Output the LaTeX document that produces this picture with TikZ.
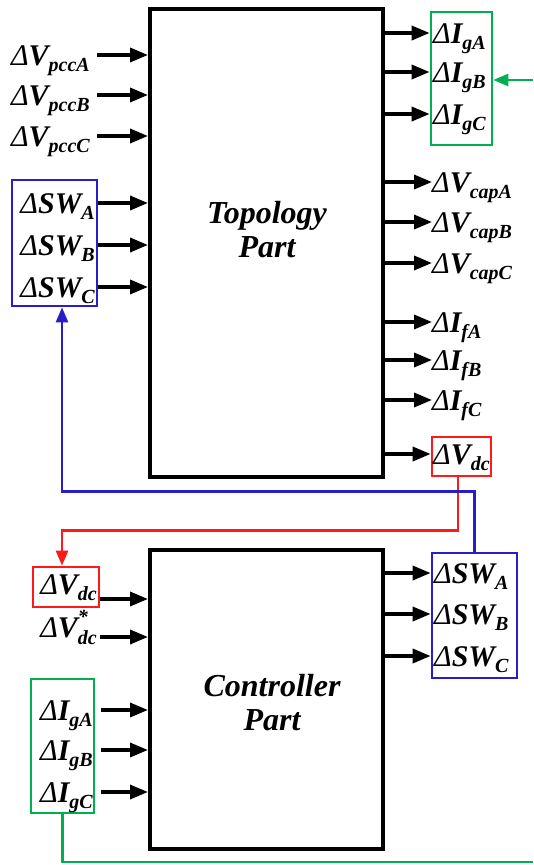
\documentclass[tikz,border=0pt]{standalone}
\usepackage{fontspec}
\setmainfont{Liberation Serif}
\usetikzlibrary{arrows.meta}

\definecolor{grpblue}{RGB}{40,30,200}
\definecolor{grpred}{RGB}{255,25,25}
\definecolor{grpgreen}{RGB}{0,176,80}

% labels: Delta, symbol, subscript
\newcommand{\dlab}[2]{{\mdseries Δ}#1\raisebox{-0.22em}{\fontsize{20}{20}\selectfont #2}}
\newcommand{\dlabs}[2]{{\mdseries Δ}#1\rlap{\raisebox{0.45em}{\fontsize{20}{20}\selectfont *}}\raisebox{-0.25em}{\fontsize{20}{20}\selectfont #2}}

\begin{document}
\begin{tikzpicture}[x=1pt,y=-1pt,
	lbl/.style={inner sep=0pt, text height=20pt, text depth=0pt, font=\fontsize{30}{32}\selectfont\bfseries\itshape},
	ttl/.style={align=center, font=\fontsize{32}{34}\selectfont\bfseries\itshape},
	blk/.style={draw, line width=4pt, minimum width=233pt},
	grp/.style={draw, line width=2.7pt, inner sep=0pt},
	arr/.style={line width=3.5pt, -{Triangle[length=18pt,width=14pt]}},
	link/.style={line width=2.6pt, -{Triangle[length=15pt,width=12pt]}}]
	\useasboundingbox (0,0) rectangle (533,865);
	
	% Topology part
	\node[blk, minimum height=468pt] (topo) at (266.5,243) {};
	\node[ttl] (topottl) at (267,230) {Topology\\Part};
	
	% grid voltages
	\node[lbl, anchor=east] (vpA) at (90,55) {\dlab{V}{pccA}};
	\node[lbl, anchor=east] (vpB) at (90,95) {\dlab{V}{pccB}};
	\node[lbl, anchor=east] (vpC) at (90,136) {\dlab{V}{pccC}};
	\draw[arr] ([xshift=7pt]vpA.east) -- (topo.west |- vpA.east);
	\draw[arr] ([xshift=7pt]vpB.east) -- (topo.west |- vpB.east);
	\draw[arr] ([xshift=7pt]vpC.east) -- (topo.west |- vpC.east);
	
	% switching signals in
	\node[grp, draw=grpblue, minimum width=85pt, minimum height=126pt] (swT) at (54.5,243) {};
	\node[lbl, anchor=east] (swTA) at (95,203) {\dlab{SW}{A}};
	\node[lbl, anchor=east] (swTB) at (95,245) {\dlab{SW}{B}};
	\node[lbl, anchor=east] (swTC) at (95,287) {\dlab{SW}{C}};
	\draw[arr] (swT.east |- swTA) -- (topo.west |- swTA);
	\draw[arr] (swT.east |- swTB) -- (topo.west |- swTB);
	\draw[arr] (swT.east |- swTC) -- (topo.west |- swTC);
	
	% grid currents out
	\node[grp, draw=grpgreen, minimum width=61pt, minimum height=133pt] (igT) at (461.5,78.5) {};
	\node[lbl, anchor=west] (igTA) at (433,33) {\dlab{I}{gA}};
	\node[lbl, anchor=west] (igTB) at (433,72) {\dlab{I}{gB}};
	\node[lbl, anchor=west] (igTC) at (433,114) {\dlab{I}{gC}};
	\draw[arr] (topo.east |- igTA.west) -- (igT.west |- igTA.west);
	\draw[arr] (topo.east |- igTB.west) -- (igT.west |- igTB.west);
	\draw[arr] (topo.east |- igTC.west) -- (igT.west |- igTC.west);
	
	% capacitor voltages
	\node[lbl, anchor=west] (vcA) at (432,182) {\dlab{V}{capA}};
	\node[lbl, anchor=west] (vcB) at (432,222) {\dlab{V}{capB}};
	\node[lbl, anchor=west] (vcC) at (432,263) {\dlab{V}{capC}};
	\draw[arr] (topo.east |- vcA.west) -- (vcA.west);
	\draw[arr] (topo.east |- vcB.west) -- (vcB.west);
	\draw[arr] (topo.east |- vcC.west) -- (vcC.west);
	
	% filter currents
	\node[lbl, anchor=west] (ifA) at (432,322) {\dlab{I}{fA}};
	\node[lbl, anchor=west] (ifB) at (432,360) {\dlab{I}{fB}};
	\node[lbl, anchor=west] (ifC) at (432,400) {\dlab{I}{fC}};
	\draw[arr] (topo.east |- ifA.west) -- (ifA.west);
	\draw[arr] (topo.east |- ifB.west) -- (ifB.west);
	\draw[arr] (topo.east |- ifC.west) -- (ifC.west);
	
	% dc voltage out
	\node[grp, draw=grpred, minimum width=59pt, minimum height=39pt] (vdcT) at (461.5,456.5) {};
	\node[lbl, anchor=west] (vdcTl) at (433,454) {\dlab{V}{dc}};
	\draw[arr] (topo.east |- vdcTl.west) -- (vdcT.west |- vdcTl.west);
	
	% Controller part
	\node[blk, minimum height=299pt] (ctrl) at (266.5,699.5) {};
	\node[ttl] (ctrlttl) at (272,703) {Controller\\Part};
	
	% dc voltage in
	\node[grp, draw=grpred, minimum width=66pt, minimum height=40pt] (vdcC) at (66,587) {};
	\node[lbl, anchor=east] (vdcCl) at (97,584) {\dlab{V}{dc}};
	\node[lbl, anchor=east] (vref) at (97,627) {\dlabs{V}{dc}};
	\draw[arr] ([yshift=-12pt]vdcC.east) -- ([yshift=-12pt]vdcC.east -| ctrl.west);
	\draw[arr] ([yshift=-10pt,xshift=3pt]vref.east) -- ([yshift=-10pt]vref.east -| ctrl.west);
	
	% grid currents in
	\node[grp, draw=grpgreen, minimum width=63pt, minimum height=134pt] (igC) at (62.5,746) {};
	\node[lbl, anchor=east] (igCA) at (93,710) {\dlab{I}{gA}};
	\node[lbl, anchor=east] (igCB) at (93,750) {\dlab{I}{gB}};
	\node[lbl, anchor=east] (igCC) at (93,792) {\dlab{I}{gC}};
	\draw[arr] ([xshift=6pt]igC.east |- igCA) -- (ctrl.west |- igCA);
	\draw[arr] ([xshift=6pt]igC.east |- igCB) -- (ctrl.west |- igCB);
	\draw[arr] ([xshift=6pt]igC.east |- igCC) -- (ctrl.west |- igCC);
	
	% switching signals out
	\node[grp, draw=grpblue, minimum width=85pt, minimum height=125pt] (swC) at (474.5,615.5) {};
	\node[lbl, anchor=west] (swCA) at (434,573) {\dlab{SW}{A}};
	\node[lbl, anchor=west] (swCB) at (434,614) {\dlab{SW}{B}};
	\node[lbl, anchor=west] (swCC) at (434,656) {\dlab{SW}{C}};
	\draw[arr] (ctrl.east |- swCA.west) -- (swC.west |- swCA.west);
	\draw[arr] (ctrl.east |- swCB.west) -- (swC.west |- swCB.west);
	\draw[arr] (ctrl.east |- swCC.west) -- (swC.west |- swCC.west);
	
	% feedback paths
	\coordinate (gin) at (533,80);
	\coordinate (gout) at (533,862);
	\draw[link, grpred] ([xshift=-3.5pt]vdcT.south) -- ++(0,53) -| ([xshift=-4pt]vdcC.north);
	\draw[link, grpblue] (swC.north) -- ++(0,-60) -| ([xshift=7.5pt]swT.south);
	\draw[line width=2.6pt, grpgreen] (igC.south) |- (gout);
	\draw[link, grpgreen] (gin) -- (igT.east |- gin);
\end{tikzpicture}
\end{document}
